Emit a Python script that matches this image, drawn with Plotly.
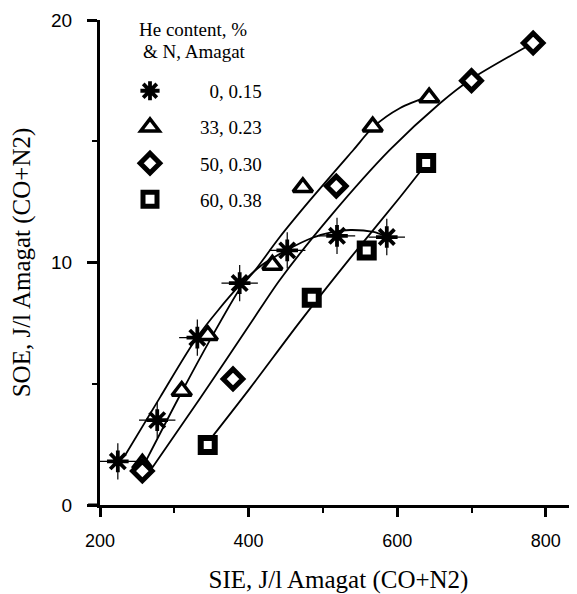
import plotly.graph_objects as go

# ---- data ----
star_x = [224, 277, 331, 388, 452, 519, 586]
star_y = [1.8, 3.5, 6.9, 9.15, 10.5, 11.1, 11.05]
tri_x = [257, 310, 345, 432, 473, 567, 643]
tri_y = [1.7, 4.7, 7.0, 9.9, 13.1, 15.6, 16.8]
dia_x = [257, 379, 518, 700, 783]
dia_y = [1.4, 5.2, 13.15, 17.5, 19.05]
sq_x = [345, 485, 559, 639]
sq_y = [2.47, 8.55, 10.5, 14.1]

# fitted curves
star_fit_x = [234, 281, 331, 386, 418, 452, 485, 514, 537, 568, 584]
star_fit_y = [2.06, 4.45, 6.93, 8.99, 9.90, 10.52, 11.01, 11.26, 11.34, 11.26, 11.09]
tri_fit_x = [261, 310, 348, 389, 409, 442, 483, 541, 568, 604, 644]
tri_fit_y = [1.77, 4.66, 6.80, 8.95, 9.69, 11.05, 12.58, 14.64, 15.59, 16.37, 16.87]
dia_fit_x = [271, 335, 402, 442, 510, 590, 658, 698, 783]
dia_fit_y = [1.57, 4.41, 7.46, 9.28, 11.9, 14.64, 16.58, 17.53, 19.05]
sq_fit_x = [352, 402, 469, 537, 604, 640]
sq_fit_y = [2.85, 4.82, 7.55, 10.19, 12.70, 14.10]

labels = ["\u20070, 0.15", "33, 0.23", "50, 0.30", "60, 0.38"]
legend_title = ["He content, %", "& N, Amagat"]
x_ticks = [200, 400, 600, 800]
y_ticks = [0, 10, 20]

SERIF = "Liberation Serif, Times New Roman, serif"
SANS = "Liberation Sans, Arial, sans-serif"
BLACK = "black"

fig = go.Figure()

line_style = dict(color=BLACK, width=1.8, shape="spline", smoothing=0.8)
for fx, fy, grp in [(star_fit_x, star_fit_y, "a"), (tri_fit_x, tri_fit_y, "b"),
                    (dia_fit_x, dia_fit_y, "c"), (sq_fit_x, sq_fit_y, "d")]:
    fig.add_trace(go.Scatter(x=fx, y=fy, mode="lines", line=line_style,
                             showlegend=False, legendgroup=grp, hoverinfo="skip"))

# star: thin long cross underneath + thick asterisk
fig.add_trace(go.Scatter(x=star_x, y=star_y, mode="markers", showlegend=False, legendgroup="a",
                         marker=dict(symbol="cross-thin-open", size=26, color=BLACK,
                                     line=dict(color=BLACK, width=1.2))))
fig.add_trace(go.Scatter(x=star_x, y=star_y, mode="markers", name=labels[0], legendgroup="a",
                         marker=dict(symbol="asterisk-open", size=18, color=BLACK,
                                     line=dict(color=BLACK, width=3.8))))
fig.add_trace(go.Scatter(x=tri_x, y=tri_y, mode="markers", name=labels[1], legendgroup="b",
                         marker=dict(symbol="triangle-up", size=17, color="white",
                                     line=dict(color=BLACK, width=3.5))))
fig.add_trace(go.Scatter(x=dia_x, y=dia_y, mode="markers", name=labels[2], legendgroup="c",
                         marker=dict(symbol="diamond", size=15, color="white",
                                     line=dict(color=BLACK, width=5))))
fig.add_trace(go.Scatter(x=sq_x, y=sq_y, mode="markers", name=labels[3], legendgroup="d",
                         marker=dict(symbol="square", size=14, color="white",
                                     line=dict(color=BLACK, width=6))))

# page has an 8px body margin: figure is sized so the plot area lands where the reference has it
fig.update_layout(
    width=569, height=586,
    margin=dict(l=92, r=0, t=12, b=89),
    paper_bgcolor="white", plot_bgcolor="white",
    showlegend=True,
    legend=dict(x=0.0, y=0.893, xanchor="left", yanchor="top",
                bgcolor="rgba(0,0,0,0)", borderwidth=0,
                font=dict(family=SERIF, size=19, color=BLACK),
                itemwidth=90, tracegroupgap=8.5, traceorder="grouped"),
    xaxis=dict(range=[200, 842], tickvals=x_ticks, ticks="outside", ticklen=9, tickwidth=2.5,
               tickcolor=BLACK, showline=True, linewidth=3, linecolor=BLACK,
               showgrid=False, zeroline=False, automargin=False,
               tickfont=dict(family=SANS, size=18, color=BLACK),
               ticklabelstandoff=8,
               minor=dict(ticks="outside", ticklen=5, tickwidth=2, tickcolor=BLACK,
                          dtick=100, tick0=200, showgrid=False),
               title=dict(text="SIE, J/l Amagat (CO+N2)", standoff=31,
                          font=dict(family=SERIF, size=25, color=BLACK))),
    yaxis=dict(range=[0, 20], tickvals=y_ticks, ticks="outside", ticklen=10, tickwidth=2.5,
               tickcolor=BLACK, showline=True, linewidth=3, linecolor=BLACK,
               showgrid=False, zeroline=False, automargin=False,
               tickfont=dict(family=SANS, size=19, color=BLACK),
               ticklabelstandoff=11,
               minor=dict(ticks="outside", ticklen=5, tickwidth=2, tickcolor=BLACK,
                          dtick=5, tick0=0, showgrid=False),
               title=dict(text="SOE, J/l Amagat (CO+N2)", standoff=19,
                          font=dict(family=SERIF, size=25, color=BLACK))),
    annotations=[
        dict(text=legend_title[0], xref="paper", yref="paper",
             x=93 / 477, y=1 - 9 / 485, xanchor="center", yanchor="middle",
             showarrow=False, font=dict(family=SERIF, size=19, color=BLACK)),
        dict(text=legend_title[1], xref="paper", yref="paper",
             x=94 / 477, y=1 - 32 / 485, xanchor="center", yanchor="middle",
             showarrow=False, font=dict(family=SERIF, size=19, color=BLACK)),
    ],
    shapes=[dict(type="line", xref="paper", yref="y", x0=-0.025, x1=0, y0=0, y1=0,
                 line=dict(color=BLACK, width=3))],
)

fig.write_html("out.html")
